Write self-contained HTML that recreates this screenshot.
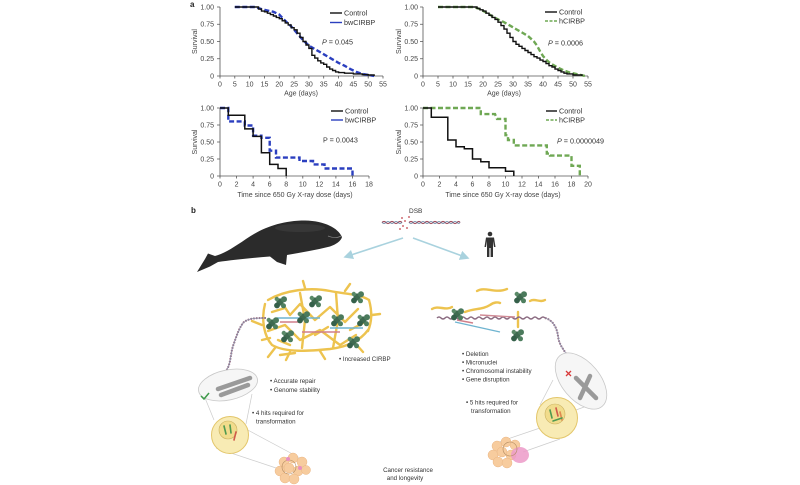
<!DOCTYPE html>
<html><head><meta charset="utf-8">
<style>
html,body{margin:0;padding:0;background:#fff;}
svg{display:block;}
text{font-family:"Liberation Sans",Arial,sans-serif;}
.t{font-size:7px;fill:#444;}
.lg{font-size:7.2px;fill:#333;}
.s{font-size:6.2px;fill:#333;}
.ax{stroke:#555;stroke-width:0.8;fill:none;}
</style></head>
<body>
<svg width="800" height="485" viewBox="0 0 800 485" xmlns="http://www.w3.org/2000/svg">
<defs>
<g id="p">
  <circle cx="0" cy="0" r="3.6" fill="#3f6a50"/>
  <circle cx="4" cy="-2.8" r="3" fill="#4b7a5c"/>
  <circle cx="-3" cy="3.5" r="2.9" fill="#35604a"/>
  <circle cx="3.5" cy="3.8" r="2.5" fill="#4f7f60"/>
  <circle cx="-3.2" cy="-3" r="2.2" fill="#5a8a68"/>
</g>
<marker id="ah" markerWidth="6" markerHeight="6" refX="3" refY="3" orient="auto">
  <path d="M0,0 L6,3 L0,6 Z" fill="#a9d2de"/>
</marker>
</defs>
<rect width="800" height="485" fill="#fff"/>

<text x="190" y="7" style="font-size:8px;font-weight:bold;fill:#222">a</text>

<!-- ===== Top-left plot ===== -->
<g>
<path class="ax" d="M220,7 V76 H383"/>
<path class="ax" d="M217,7H220M217,24.25H220M217,41.5H220M217,58.75H220M217,76H220"/>
<path class="ax" d="M220,76v2.5M234.8,76v2.5M249.6,76v2.5M264.5,76v2.5M279.3,76v2.5M294.1,76v2.5M308.9,76v2.5M323.7,76v2.5M338.6,76v2.5M353.4,76v2.5M368.2,76v2.5M383,76v2.5"/>
<g class="t" text-anchor="end">
<text x="214" y="9.5">1.00</text><text x="214" y="26.7">0.75</text><text x="214" y="44">0.50</text><text x="214" y="61.2">0.25</text><text x="214" y="78.5">0</text>
</g>
<g class="t" text-anchor="middle">
<text x="220" y="86.5">0</text><text x="234.8" y="86.5">5</text><text x="249.6" y="86.5">10</text><text x="264.5" y="86.5">15</text><text x="279.3" y="86.5">20</text><text x="294.1" y="86.5">25</text><text x="308.9" y="86.5">30</text><text x="323.7" y="86.5">35</text><text x="338.6" y="86.5">40</text><text x="353.4" y="86.5">45</text><text x="368.2" y="86.5">50</text><text x="383" y="86.5">55</text>
<text x="301" y="95.5">Age (days)</text>
</g>
<text class="t" transform="translate(197,41.5) rotate(-90)" text-anchor="middle">Survival</text>
<path d="M234.8,7 H255.6 L261.5,9.1 L267.4,10.5 L273.4,11.8 L279.3,14.6 L285.2,20.8 L291.1,26.3 L297.1,33.2 L303,40.1 L308.9,45.6 L314.8,49.1 L320.8,52.5 L326.7,56 L332.6,59.4 L338.6,62.9 L344.5,65.7 L350.4,69.1 L356.3,71.9 L362.3,73.9 L368.2,75 L374.1,76" fill="none" stroke="#2b3fbf" stroke-width="2.4" stroke-dasharray="5,2.5"/>
<path d="M234.8,7 H258.5 V9.1 H261.5 V11.1 H264.5 V11.8 H267.4 V13.2 H270.4 V14.6 H273.4 V16 H276.3 V17.4 H279.3 V18.7 H282.2 V20.8 H285.2 V22.9 H288.2 V24.9 H291.1 V27.7 H294.1 V29.8 H297.1 V33.2 H300 V37.4 H303 V41.5 H306 V45 H308.9 V48.4 H311.9 V55.3 H314.8 V58.1 H317.8 V60.8 H320.8 V62.9 H323.7 V64.3 H326.7 V67 H329.7 V69.1 H332.6 V70.5 H335.6 V71.9 H338.6 V72.6 H344.5 V73.2 H353.4 V73.9 H362.3 V74.6 H368.2 V75 H374.1 V76" fill="none" stroke="#111" stroke-width="1.4"/>
<line x1="330" y1="13" x2="342" y2="13" stroke="#111" stroke-width="1.4"/>
<text class="lg" x="344" y="15.5">Control</text>
<line x1="330" y1="22.5" x2="342" y2="22.5" stroke="#2b3fbf" stroke-width="1.4"/>
<text class="lg" x="344" y="25">bwCIRBP</text>
<text class="lg" x="322" y="44.5"><tspan font-style="italic">P</tspan> = 0.045</text>
</g>

<!-- ===== Top-right plot ===== -->
<g>
<path class="ax" d="M423,7 V76 H588"/>
<path class="ax" d="M420,7H423M420,24.25H423M420,41.5H423M420,58.75H423M420,76H423"/>
<path class="ax" d="M423,76v2.5M438,76v2.5M453,76v2.5M468,76v2.5M483,76v2.5M498,76v2.5M513,76v2.5M528,76v2.5M543,76v2.5M558,76v2.5M573,76v2.5M588,76v2.5"/>
<g class="t" text-anchor="end">
<text x="418" y="9.5">1.00</text><text x="418" y="26.7">0.75</text><text x="418" y="44">0.50</text><text x="418" y="61.2">0.25</text><text x="418" y="78.5">0</text>
</g>
<g class="t" text-anchor="middle">
<text x="423" y="86.5">0</text><text x="438" y="86.5">5</text><text x="453" y="86.5">10</text><text x="468" y="86.5">15</text><text x="483" y="86.5">20</text><text x="498" y="86.5">25</text><text x="513" y="86.5">30</text><text x="528" y="86.5">35</text><text x="543" y="86.5">40</text><text x="558" y="86.5">45</text><text x="573" y="86.5">50</text><text x="588" y="86.5">55</text>
<text x="504" y="95.5">Age (days)</text>
</g>
<text class="t" transform="translate(401,41.5) rotate(-90)" text-anchor="middle">Survival</text>
<path d="M438,7 L474,7 L480,9.1 L486,12.5 L492,16 L498,19.4 L504,22.2 L510,25.6 L516,29.1 L522,32.5 L528,36 L534,41.5 L537,45.6 L540,51.2 L543,56 L546,59.4 L549,62.2 L552,64.3 L558,67.7 L564,70.5 L570,72.6 L576,73.9 L582,75.3 L585,76" fill="none" stroke="#6fa854" stroke-width="2.4" stroke-dasharray="5,2.5"/>
<path d="M438,7 H477 V8.4 H480 V9.8 H483 V11.1 H486 V13.2 H489 V15.3 H492 V17.4 H495 V19.4 H498 V22.2 H501 V25.6 H504 V29.1 H507 V33.2 H510 V37.4 H513 V41.5 H516 V44.3 H519 V46.3 H522 V48.4 H525 V50.5 H528 V52.5 H531 V54.6 H534 V56.7 H537 V58.1 H540 V60.1 H543 V61.5 H546 V63.6 H549 V65.7 H552 V67 H555 V69.1 H558 V70.5 H561 V71.9 H564 V73.2 H567 V73.9 H573 V75 H582 V76" fill="none" stroke="#111" stroke-width="1.4"/>
<line x1="545" y1="12" x2="557" y2="12" stroke="#111" stroke-width="1.4"/>
<text class="lg" x="559" y="14.5">Control</text>
<line x1="545" y1="21" x2="557" y2="21" stroke="#6fa854" stroke-width="1.4" stroke-dasharray="3,1.5"/>
<text class="lg" x="559" y="23.5">hCIRBP</text>
<text class="lg" x="548" y="45.5"><tspan font-style="italic">P</tspan> = 0.0006</text>
</g>

<!-- ===== Bottom-left plot ===== -->
<g>
<path class="ax" d="M220,108 V176 H369"/>
<path class="ax" d="M217,108H220M217,125H220M217,142H220M217,159H220M217,176H220"/>
<path class="ax" d="M220,176v2.5M236.6,176v2.5M253.1,176v2.5M269.7,176v2.5M286.2,176v2.5M302.8,176v2.5M319.4,176v2.5M335.9,176v2.5M352.5,176v2.5M369,176v2.5"/>
<g class="t" text-anchor="end">
<text x="214" y="110.5">1.00</text><text x="214" y="127.5">0.75</text><text x="214" y="144.5">0.50</text><text x="214" y="161.5">0.25</text><text x="214" y="178.5">0</text>
</g>
<g class="t" text-anchor="middle">
<text x="220" y="186.5">0</text><text x="236.6" y="186.5">2</text><text x="253.1" y="186.5">4</text><text x="269.7" y="186.5">6</text><text x="286.2" y="186.5">8</text><text x="302.8" y="186.5">10</text><text x="319.4" y="186.5">12</text><text x="335.9" y="186.5">14</text><text x="352.5" y="186.5">16</text><text x="369" y="186.5">18</text>
<text x="295" y="197">Time since 650 Gy X-ray dose (days)</text>
</g>
<text class="t" transform="translate(197,142) rotate(-90)" text-anchor="middle">Survival</text>
<path d="M220,108 H228.3 V121.4 H244.8 V125.5 H253.1 V135.7 H261.4 V137.8 H269.7 V150.7 H276 V157.6 H299.5 V161 H313 V164.4 H324.5 V168.5 H352.5 V176" fill="none" stroke="#2b3fbf" stroke-width="2.4" stroke-dasharray="5,2.5"/>
<path d="M220,108 H228.3 V115.2 H244.8 V128.9 H253.1 V136.4 H261.4 V152.8 H269.7 V164.4 H278 V168.5 H286.2 V176" fill="none" stroke="#111" stroke-width="1.5"/>
<line x1="331" y1="111" x2="343" y2="111" stroke="#111" stroke-width="1.4"/>
<text class="lg" x="345" y="113.5">Control</text>
<line x1="331" y1="120" x2="343" y2="120" stroke="#2b3fbf" stroke-width="1.4"/>
<text class="lg" x="345" y="122.5">bwCIRBP</text>
<text class="lg" x="323" y="142.5">P = 0.0043</text>
</g>

<!-- ===== Bottom-right plot ===== -->
<g>
<path class="ax" d="M423,108 V176 H588"/>
<path class="ax" d="M420,108H423M420,125H423M420,142H423M420,159H423M420,176H423"/>
<path class="ax" d="M423,176v2.5M439.5,176v2.5M456,176v2.5M472.5,176v2.5M489,176v2.5M505.5,176v2.5M522,176v2.5M538.5,176v2.5M555,176v2.5M571.5,176v2.5M588,176v2.5"/>
<g class="t" text-anchor="end">
<text x="418" y="110.5">1.00</text><text x="418" y="127.5">0.75</text><text x="418" y="144.5">0.50</text><text x="418" y="161.5">0.25</text><text x="418" y="178.5">0</text>
</g>
<g class="t" text-anchor="middle">
<text x="423" y="186.5">0</text><text x="439.5" y="186.5">2</text><text x="456" y="186.5">4</text><text x="472.5" y="186.5">6</text><text x="489" y="186.5">8</text><text x="505.5" y="186.5">10</text><text x="522" y="186.5">12</text><text x="538.5" y="186.5">14</text><text x="555" y="186.5">16</text><text x="571.5" y="186.5">18</text><text x="588" y="186.5">20</text>
<text x="503" y="197">Time since 650 Gy X-ray dose (days)</text>
</g>
<text class="t" transform="translate(401,142) rotate(-90)" text-anchor="middle">Survival</text>
<path d="M423,108 H480.8 V114.1 H495 L497,118.9 H505.5 V135.2 H508 V140 H513.8 V145.4 H546.8 V153.6 H550 V155.6 H571.5 V165.8 H579.8 V176" fill="none" stroke="#6fa854" stroke-width="2.4" stroke-dasharray="5,2.5"/>
<path d="M423,108 H431.3 V117.2 H447.8 V140 H456 V146.8 H464.3 V148.8 H472.5 V159 H480.8 V161.7 H489 V167.8 H505.5 V171.2 H513.8 V176" fill="none" stroke="#111" stroke-width="1.5"/>
<line x1="546" y1="111" x2="557" y2="111" stroke="#111" stroke-width="1.4"/>
<text class="lg" x="559" y="113.5">Control</text>
<line x1="546" y1="120" x2="557" y2="120" stroke="#6fa854" stroke-width="1.4" stroke-dasharray="3,1.5"/>
<text class="lg" x="559" y="122.5">hCIRBP</text>
<text class="lg" x="557" y="143.5"><tspan font-style="italic">P</tspan> = 0.0000049</text>
</g>

<!-- ===== Panel b ===== -->
<text x="191" y="213" style="font-size:8px;font-weight:bold;fill:#222">b</text>

<!-- whale -->
<path d="M342,237 C338,228 325,221 305,220.5 C281,220.5 262,228 246,239 C233,248 223,254 215,256 L208,253.5 L205,259 L197,272 L210,266.5 L218,262 C233,260 251,258 270,256.5 L277,262 L286,265 L287,255 C301,252.5 316,250 330,246.5 C336,244.5 341,241 342,237 Z" fill="#2b2b2b"/>
<path d="M328,236 C333,238 338,238 341,236" stroke="#888" stroke-width="0.8" fill="none"/>
<ellipse cx="300" cy="228" rx="25" ry="4" fill="#444" opacity="0.5"/>

<!-- DSB -->
<text class="s" x="409" y="213" style="font-size:6.5px">DSB</text>
<path d="M382,222.5 q2,-2 4,0 t4,0 t4,0 t4,0 t4,0" stroke="#a05060" stroke-width="1.2" fill="none"/>
<path d="M409,222.5 q2,-2 4,0 t4,0 t4,0 t4,0 t4,0 t4,0 t4,0 t4,0 t4,0 t4,0 t4,0 t4,0 t3,0" stroke="#a05060" stroke-width="1.2" fill="none"/>
<path d="M382,222.5 q2,2 4,0 t4,0 t4,0 t4,0 t4,0 M409,222.5 q2,2 4,0 t4,0 t4,0 t4,0 t4,0 t4,0 t4,0 t4,0 t4,0 t4,0 t4,0 t4,0 t3,0" stroke="#6080a0" stroke-width="0.8" fill="none"/>
<g fill="#c0404a"><circle cx="402" cy="218" r="0.9"/><circle cx="405" cy="221" r="0.9"/><circle cx="403" cy="226" r="0.9"/><circle cx="407" cy="228" r="0.9"/><circle cx="400" cy="229" r="0.9"/><circle cx="409" cy="217" r="0.9"/></g>

<!-- arrows -->
<line x1="403" y1="238" x2="348" y2="256" stroke="#a9d2de" stroke-width="1.6" marker-end="url(#ah)"/>
<line x1="413" y1="238" x2="465" y2="257" stroke="#a9d2de" stroke-width="1.6" marker-end="url(#ah)"/>

<!-- human -->
<g fill="#333">
<circle cx="490" cy="234" r="2.3"/>
<path d="M486,237.5 H494 L495.5,247 H494 L493,241 V257 H490.6 V248 H489.4 V257 H487 V241 L486,247 H484.5 Z"/>
</g>

<!-- left chromatin -->
<g stroke="#edc34f" stroke-width="2.4" fill="none" stroke-linecap="round" stroke-linejoin="round">
<path d="M268,300 C285,290 310,287 330,291 C345,294 360,294 369,300"/>
<path d="M265,304 C261,320 264,336 272,345 C286,353 310,351 330,349 C346,347 360,341 368,330"/>
<path d="M369,300 C373,314 371,324 368,331"/>
<path d="M280,300 L290,315 L300,304 L315,320 L330,307 L345,322 L358,309"/>
<path d="M268,331 L285,325 L300,340 L320,330 L340,345 L356,335"/>
<path d="M300,293 L305,320 L302,348"/>
<path d="M336,293 L338,320 L333,348"/>
<path d="M262,325 L252,321 M275,348 L268,357 M320,351 L325,359 M355,343 L363,352 M290,352 L286,360 M345,291 L350,284 M305,288 L303,281 M372,315 L380,314"/>
<path d="M272,312 L285,308 M350,330 L365,322 M315,335 L328,327 M278,340 L290,345 M262,340 L270,338 M280,355 L295,353"/>
</g>
<g stroke-width="1.4">
<line x1="277" y1="318" x2="320" y2="318" stroke="#6fb4d0"/>
<line x1="280" y1="322" x2="300" y2="322" stroke="#d07f8a"/>
<line x1="302" y1="332" x2="340" y2="332" stroke="#d07f8a"/>
<line x1="330" y1="328" x2="363" y2="328" stroke="#6fb4d0"/>
</g>
<use href="#p" x="280" y="302"/><use href="#p" x="315" y="301"/><use href="#p" x="357" y="297"/>
<use href="#p" x="303" y="317"/><use href="#p" x="337" y="320"/><use href="#p" x="363" y="320"/>
<use href="#p" x="272" y="323"/><use href="#p" x="287" y="336"/><use href="#p" x="353" y="342"/>

<!-- left DNA strand -->
<path d="M266,318 C256,318 248,318 243,323 C238,330 236,338 233,346 C230,356 231,364 226,371 C224,374 222,376 220,378" stroke="#9a6a80" stroke-width="2" fill="none" stroke-dasharray="1.6,1.2"/>
<path d="M266,318 C256,318 248,318 243,323 C238,330 236,338 233,346 C230,356 231,364 226,371 C224,374 222,376 220,378" stroke="#8a8fa8" stroke-width="0.8" fill="none"/>

<text class="s" x="339" y="361">• Increased CIRBP</text>

<!-- left ellipse with chromosome -->
<line x1="203" y1="393" x2="214" y2="420" stroke="#ccc" stroke-width="0.7"/>
<line x1="252" y1="394" x2="246" y2="424" stroke="#ccc" stroke-width="0.7"/>
<ellipse cx="228" cy="385" rx="30" ry="15" transform="rotate(-12 228 385)" fill="#f6f6f6" stroke="#c8c8c8" stroke-width="0.8"/>
<g stroke="#9a9a9a" stroke-width="4.5" stroke-linecap="round">
<line x1="218" y1="389" x2="250" y2="378"/>
<line x1="221" y1="395" x2="248" y2="385"/>
</g>
<path d="M201,396 L204,399 L209,393" stroke="#3e9a4a" stroke-width="1.5" fill="none"/>
<text class="s" x="270" y="383">• Accurate repair</text>
<text class="s" x="270" y="392">• Genome stability</text>

<!-- left cell -->
<line x1="216" y1="448" x2="282" y2="470" stroke="#ccc" stroke-width="0.7"/>
<line x1="244" y1="428" x2="300" y2="458" stroke="#ccc" stroke-width="0.7"/>
<circle cx="230" cy="435" r="18.5" fill="#f8ebb4" stroke="#e3c66a" stroke-width="1"/>
<circle cx="228" cy="430" r="9" fill="#f1dc8c" stroke="#c9b060" stroke-width="0.6"/>
<g stroke-width="1.6" stroke-linecap="round">
<line x1="224" y1="426" x2="226" y2="434" stroke="#4f9a50"/>
<line x1="230" y1="425" x2="231" y2="433" stroke="#4f9a50"/>
<line x1="236" y1="432" x2="234" y2="440" stroke="#d05a4a"/>
</g>
<text class="s" x="252" y="415">• 4 hits required for</text>
<text class="s" x="256" y="423.5">transformation</text>

<!-- left cluster -->
<g fill="#f7cc9e" stroke="#eab583" stroke-width="0.5">
<circle cx="284" cy="462" r="5"/><circle cx="293" cy="458" r="5"/><circle cx="302" cy="462" r="5"/>
<circle cx="280" cy="471" r="5"/><circle cx="289" cy="468" r="5"/><circle cx="298" cy="471" r="5"/><circle cx="306" cy="470" r="4.5"/>
<circle cx="285" cy="478" r="5"/><circle cx="294" cy="479" r="5"/>
</g>
<circle cx="289" cy="467" r="7" fill="none" stroke="#b08a60" stroke-width="0.6"/>
<circle cx="288" cy="459" r="2" fill="#e88ec0"/><circle cx="300" cy="468" r="2" fill="#e88ec0"/>

<!-- center text -->
<text class="s" x="408" y="472" text-anchor="middle">Cancer resistance</text>
<text class="s" x="405" y="480" text-anchor="middle">and longevity</text>

<!-- right chromatin -->
<g stroke="#edc34f" stroke-width="2.4" fill="none" stroke-linecap="round">
<path d="M477,291 C485,286 495,294 507,289"/>
<path d="M432,309 C438,305 446,311 452,307"/>
<path d="M465,312 C475,308 482,310 490,305 C494,302 498,302 500,303"/>
<path d="M530,301 C535,298 540,303 545,300"/>
<path d="M518,312 L518,327"/>
</g>
<path d="M437,318 q2,-2 4,0 t4,0 t4,0 t4,0 t4,0 t4,0 t4,0 t4,0 t4,0 t4,0 t4,0 t4,0 t4,0 t4,0 t4,0 t4,0 t4,0 t4,0 t4,0 t4,0 t4,0 t4,0 t4,0 t4,0 t4,0 t4,0 t4,0" stroke="#8a6a80" stroke-width="1.5" fill="none"/>
<path d="M545,318 C553,320 557,328 558,336 C559,346 566,352 570,360 C574,368 578,372 580,377" stroke="#9a6a80" stroke-width="2" fill="none" stroke-dasharray="1.6,1.2"/>
<path d="M545,318 C553,320 557,328 558,336 C559,346 566,352 570,360 C574,368 578,372 580,377" stroke="#8a8fa8" stroke-width="0.8" fill="none"/>
<g stroke-width="1.4">
<line x1="480" y1="315" x2="515" y2="317" stroke="#d08a95"/>
<line x1="455" y1="322" x2="500" y2="332" stroke="#6fb4d0"/>
<line x1="457" y1="320" x2="473" y2="323" stroke="#d07f8a"/>
</g>
<use href="#p" x="520" y="297"/><use href="#p" x="457" y="314"/><use href="#p" x="517" y="335"/>

<text class="s" x="462" y="356">• Deletion</text>
<text class="s" x="462" y="364.5">• Micronuclei</text>
<text class="s" x="462" y="373">• Chromosomal instability</text>
<text class="s" x="462" y="381.5">• Gene disruption</text>

<!-- right ellipse -->
<line x1="553" y1="380" x2="540" y2="405" stroke="#ccc" stroke-width="0.7"/>
<line x1="603" y1="400" x2="576" y2="410" stroke="#ccc" stroke-width="0.7"/>
<ellipse cx="581" cy="381" rx="33" ry="19" transform="rotate(50 581 381)" fill="#f6f6f6" stroke="#c8c8c8" stroke-width="0.8"/>
<g stroke="#9a9a9a" stroke-width="4.5" stroke-linecap="round">
<line x1="576" y1="378" x2="596" y2="398"/>
<line x1="590" y1="376" x2="580" y2="398"/>
</g>
<path d="M566,371 L571,376 M571,371 L566,376" stroke="#d83a3a" stroke-width="1.3"/>

<!-- right cell -->
<line x1="540" y1="428" x2="496" y2="443" stroke="#ccc" stroke-width="0.7"/>
<line x1="560" y1="439" x2="523" y2="452" stroke="#ccc" stroke-width="0.7"/>
<circle cx="557" cy="418" r="20.5" fill="#f8ebb4" stroke="#e3c66a" stroke-width="1"/>
<circle cx="555" cy="414" r="10" fill="#f1dc8c" stroke="#c9b060" stroke-width="0.6"/>
<g stroke-width="1.6" stroke-linecap="round">
<line x1="550" y1="410" x2="552" y2="418" stroke="#4f9a50"/>
<line x1="556" y1="408" x2="558" y2="416" stroke="#d05a4a"/>
<line x1="560" y1="412" x2="562" y2="420" stroke="#e08a50"/>
<line x1="553" y1="421" x2="562" y2="418" stroke="#4f9a50"/>
</g>
<text class="s" x="466" y="404.5">• 5 hits required for</text>
<text class="s" x="471" y="413">transformation</text>

<!-- right cluster -->
<g fill="#f7cc9e" stroke="#eab583" stroke-width="0.5">
<circle cx="497" cy="446" r="5"/><circle cx="506" cy="442" r="5"/><circle cx="515" cy="445" r="5"/>
<circle cx="493" cy="455" r="5"/><circle cx="502" cy="452" r="5"/><circle cx="511" cy="455" r="5"/>
<circle cx="498" cy="462" r="5"/><circle cx="507" cy="463" r="5"/>
</g>
<ellipse cx="520" cy="455" rx="9" ry="8" fill="#ec9ac8" opacity="0.85"/>
<circle cx="510" cy="449" r="7" fill="none" stroke="#b08a60" stroke-width="0.6"/>
</svg>
</body></html>
